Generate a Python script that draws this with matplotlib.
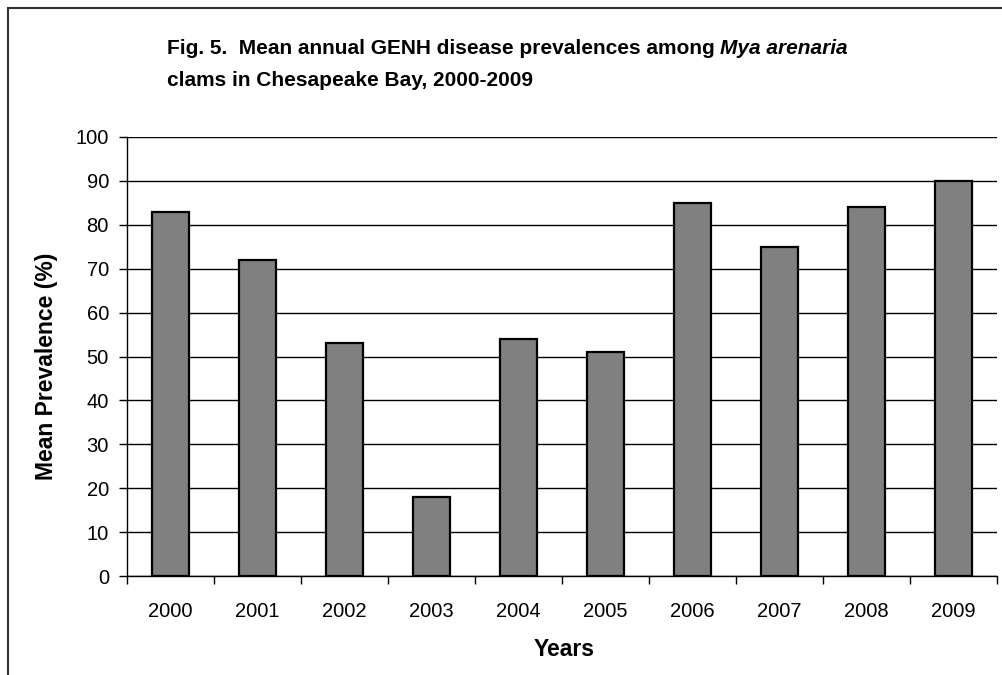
import matplotlib
matplotlib.use("Agg")
import matplotlib.pyplot as plt
from matplotlib.patches import Rectangle
import numpy as np

years = ["2000", "2001", "2002", "2003", "2004", "2005", "2006", "2007", "2008", "2009"]
prevalence = [83, 72, 53, 18, 54, 51, 85, 75, 84, 90]
y_ticks = [0, 10, 20, 30, 40, 50, 60, 70, 80, 90, 100]

plt.rcParams['font.family'] = ['Liberation Sans', 'DejaVu Sans']

W, H = 1003, 675
fig = plt.figure(figsize=(W / 100, H / 100), dpi=100)

# outer chart border (cut off at right and bottom)
fig.patches.append(Rectangle((8 / W, -0.1), 1.2, 1 - 8 / H + 0.1, transform=fig.transFigure,
                             fill=False, edgecolor='#333333', linewidth=1.5))

ax = fig.add_axes([127 / W, 1 - 576 / H, (997 - 127) / W, (576 - 137) / H])
x = np.arange(len(years))
ax.bar(x, prevalence, width=0.435, color='#808080', edgecolor='black', linewidth=1.6, zorder=3)

ax.set_xlim(-0.5, len(years) - 0.5)
ax.set_ylim(0, 100)
ax.set_yticks(y_ticks)
ax.yaxis.grid(True, color='black', linewidth=1.0, zorder=0)
ax.set_axisbelow(True)

ax.set_xticks(np.arange(-0.5, len(years), 1.0))
ax.set_xticklabels([])
ax.set_xticks(x, minor=True)
ax.set_xticklabels(years, minor=True, fontsize=14.5)
ax.tick_params(axis='x', which='minor', length=0, pad=19)
ax.tick_params(axis='x', which='major', length=5.5, width=1, direction='out')
ax.tick_params(axis='y', length=6, width=1, direction='out', labelsize=14.5, pad=7)

for s in ['top', 'right']:
    ax.spines[s].set_visible(False)
for s in ['left', 'bottom']:
    ax.spines[s].set_linewidth(1.0)

fig.text(47 / W, 1 - 366 / H, "Mean Prevalence (%)", fontsize=16.5, fontweight='bold',
         rotation=90, ha='center', va='center')
fig.text(564 / W, 1 - 650 / H, "Years", fontsize=16.5, fontweight='bold',
         ha='center', va='center')

# title with bold-italic species name
fig.canvas.draw()
renderer = fig.canvas.get_renderer()
x0 = 167 / W
y1 = 1 - 54 / H
y2 = 1 - 86.5 / H
parts = [("Fig. 5.  Mean annual GENH disease prevalences among ", 'normal'),
         ("Mya arenaria", 'italic')]
cx = x0
for txt, style in parts:
    t = fig.text(cx, y1, txt, fontsize=15, fontweight='bold', fontstyle=style,
                 ha='left', va='baseline')
    bb = t.get_window_extent(renderer=renderer)
    cx += bb.width / W
fig.text(x0, y2, "clams in Chesapeake Bay, 2000-2009", fontsize=15, fontweight='bold',
         ha='left', va='baseline')

fig.savefig("out.png", dpi=100)
